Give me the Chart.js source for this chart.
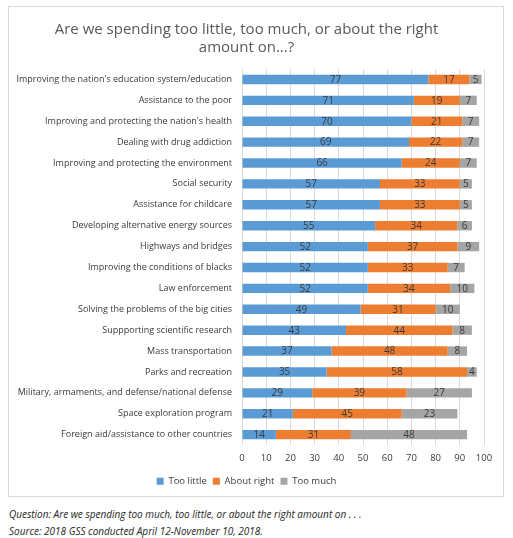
<!DOCTYPE html>
<html>
<head>
<meta charset="utf-8">
<script src="https://cdn.jsdelivr.net/npm/chart.js@4/dist/chart.umd.min.js"></script>
<style>
  body { margin: 0; background: #fff; font-family: "Open Sans", sans-serif; }
  #caja { position: absolute; left: 8px; top: 6px; width: 494px; height: 489px; border: 1px solid #d9d9d9; }
  #pie { position: absolute; left: 9px; top: 506px; font-style: italic; font-size: 10px; line-height: 17px; color: #262626; }
</style>
</head>
<body>
<div id="caja"><canvas id="grafico"></canvas></div>
<div id="pie">
  Question: Are we spending too much, too little, or about the right amount on . . .<br>
  Source: 2018 GSS conducted April 12-November 10, 2018.
</div>
<script>
const categorias = [
    "Improving the nation's education system/education",
    "Assistance to the poor",
    "Improving and protecting the nation's health",
    "Dealing with drug addiction",
    "Improving and protecting the environment",
    "Social security",
    "Assistance for childcare",
    "Developing alternative energy sources",
    "Highways and bridges",
    "Improving the conditions of blacks",
    "Law enforcement",
    "Solving the problems of the big cities",
    "Suppporting scientific research",
    "Mass transportation",
    "Parks and recreation",
    "Military, armaments, and defense/national defense",
    "Space exploration program",
    "Foreign aid/assistance to other countries"
];
const muyPoco = [77, 71, 70, 69, 66, 57, 57, 55, 52, 52, 52, 49, 43, 37, 35, 29, 21, 14];
const justo = [17, 19, 21, 22, 24, 33, 33, 34, 37, 33, 34, 31, 44, 48, 58, 39, 45, 31];
const demasiado = [5, 7, 7, 7, 7, 5, 5, 6, 9, 7, 10, 10, 8, 8, 4, 27, 23, 48];
const ticksX = [0, 10, 20, 30, 40, 50, 60, 70, 80, 90, 100];

const fuente = "'Open Sans', sans-serif";
const colorTexto = '#3a3a3a';

// etiquetas de valor dentro de cada segmento
const etiquetasValores = {
    id: 'etiquetasValores',
    afterDatasetsDraw(chart) {
        const ctx = chart.ctx;
        ctx.save();
        ctx.font = `10px ${fuente}`;
        ctx.fillStyle = colorTexto;
        ctx.textAlign = 'center';
        ctx.textBaseline = 'middle';
        chart.data.datasets.forEach((ds, i) => {
            chart.getDatasetMeta(i).data.forEach((bar, j) => {
                const x = (bar.x + bar.base) / 2;
                ctx.fillText(ds.data[j], x, bar.y + 0.5);
            });
        });
        ctx.restore();
    }
};

const grafico = document.getElementById('grafico').getContext('2d');

new Chart(grafico, {
    type: 'bar',
    data: {
        labels: categorias,
        datasets: [
            { label: 'Too little', data: muyPoco, backgroundColor: '#5B9BD5' },
            { label: 'About right', data: justo, backgroundColor: '#ED7D31' },
            { label: 'Too much', data: demasiado, backgroundColor: '#A5A5A5' }
        ]
    },
    options: {
        indexAxis: 'y',
        responsive: true,
        maintainAspectRatio: false,
        animation: false,
        datasets: {
            bar: { categoryPercentage: 0.45, barPercentage: 1, borderWidth: 0 }
        },
        layout: { padding: { left: 0, right: 19, top: 12, bottom: 0 } },
        plugins: {
            title: {
                display: true,
                text: ['Are we spending too little, too much, or about the right', 'amount on...?'],
                color: '#595959',
                font: { family: fuente, size: 15, weight: 'normal' },
                padding: { top: 2, bottom: 12 },
                lineHeight: 1.25
            },
            legend: {
                position: 'bottom',
                labels: {
                    color: colorTexto,
                    font: { family: fuente, size: 9.5 },
                    boxWidth: 7,
                    boxHeight: 7,
                    padding: 6
                }
            },
            tooltip: { enabled: false }
        },
        scales: {
            x: {
                stacked: true,
                min: 0,
                max: 100,
                afterBuildTicks: (escala) => { escala.ticks = ticksX.map(v => ({ value: v })); },
                grid: { color: '#d9d9d9', drawTicks: false },
                border: { display: false },
                ticks: { color: colorTexto, font: { family: fuente, size: 9.5 }, padding: 7 }
            },
            y: {
                stacked: true,
                grid: { display: false },
                border: { display: false },
                ticks: { color: colorTexto, font: { family: fuente, size: 9 }, padding: 2, autoSkip: false },
                afterFit: (escala) => { escala.width = 233; }
            }
        }
    },
    plugins: [etiquetasValores]
});
</script>
</body>
</html>
